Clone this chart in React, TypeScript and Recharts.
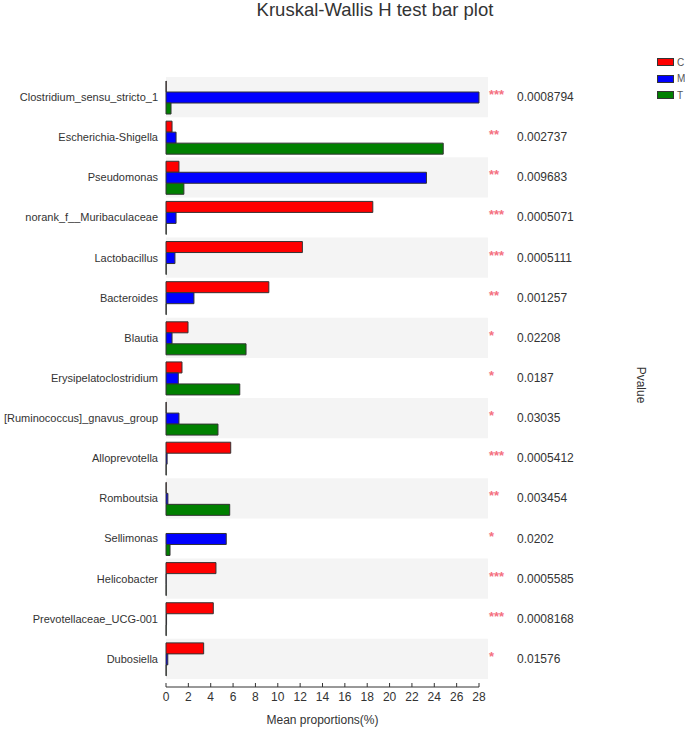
import React from 'react';
import { BarChart, Bar, XAxis, YAxis, ReferenceArea } from 'recharts';

const taxa = [
  'Clostridium_sensu_stricto_1',
  'Escherichia-Shigella',
  'Pseudomonas',
  'norank_f__Muribaculaceae',
  'Lactobacillus',
  'Bacteroides',
  'Blautia',
  'Erysipelatoclostridium',
  '[Ruminococcus]_gnavus_group',
  'Alloprevotella',
  'Romboutsia',
  'Sellimonas',
  'Helicobacter',
  'Prevotellaceae_UCG-001',
  'Dubosiella',
];

// mean proportions (%) per group
const groupC = [0.02, 0.54, 1.16, 18.5, 12.2, 9.2, 1.97, 1.43, 0.02, 5.79, 0.02, 0, 4.47, 4.23, 3.37];
const groupM = [28.0, 0.9, 23.3, 0.9, 0.8, 2.5, 0.54, 1.1, 1.16, 0.1, 0.17, 5.39, 0.02, 0.05, 0.16];
const groupT = [0.45, 24.8, 1.6, 0.02, 0.02, 0.02, 7.16, 6.6, 4.65, 0.02, 5.7, 0.36, 0.02, 0.02, 0.02];

const pValues = [
  '0.0008794', '0.002737', '0.009683', '0.0005071', '0.0005111',
  '0.001257', '0.02208', '0.0187', '0.03035', '0.0005412',
  '0.003454', '0.0202', '0.0005585', '0.0008168', '0.01576',
];
const stars = ['***', '**', '**', '***', '***', '**', '*', '*', '*', '***', '**', '*', '***', '***', '*'];

const groups = ['C', 'M', 'T'];
const colors = ['#ff0000', '#0000ff', '#008000'];
const xTicks = [0, 2, 4, 6, 8, 10, 12, 14, 16, 18, 20, 22, 24, 26, 28];

const data = taxa.map((name, i) => ({ name, C: groupC[i], M: groupM[i], T: groupT[i] }));

const XTick = ({ x, y, payload }: any) => (
  <g>
    <line x1={x} x2={x} y1={y - 4} y2={y} stroke="#333" />
    <text x={x} y={y + 14} textAnchor="middle" fontSize={12} fill="#333">
      {payload.value}
    </text>
  </g>
);

const PTick = ({ x, y, index }: any) => (
  <g>
    <text x={x + 2} y={y + 2} fontSize={13} fontWeight="bold" fill="#f4717f">
      {stars[index]}
    </text>
    <text x={x + 30} y={y + 4} fontSize={12} fill="#333">
      {pValues[index]}
    </text>
  </g>
);

const App = () => {
  return (
    <div
      style={{
        position: 'absolute',
        left: 0,
        top: 0,
        width: 685,
        height: 730,
        overflow: 'hidden',
        fontFamily: '"Liberation Sans", Arial, sans-serif',
        background: '#fff',
      }}
    >
      <div
        style={{
          position: 'absolute',
          left: 175,
          top: -1,
          width: 400,
          textAlign: 'center',
          fontSize: 18.5,
          color: '#333',
        }}
      >
        Kruskal-Wallis H test bar plot
      </div>

      <BarChart
        width={685}
        height={730}
        data={data}
        layout="vertical"
        margin={{ top: 77, right: 0, bottom: 0, left: 0 }}
        barCategoryGap="10%"
        barGap={0}
      >
        {taxa
          .filter((_, i) => i % 2 === 0)
          .map((name) => (
            <ReferenceArea
              key={name}
              yAxisId="left"
              y1={name}
              y2={name}
              x1={0}
              x2={28.8}
              fill="#f4f4f4"
              fillOpacity={1}
              stroke="none"
              ifOverflow="visible"
            />
          ))}
        <XAxis
          type="number"
          domain={[0, 28]}
          ticks={xTicks}
          interval={0}
          height={43}
          tickLine={false}
          tickSize={0}
          tickMargin={0}
          axisLine={{ stroke: '#333' }}
          tick={<XTick />}
          label={{ value: 'Mean proportions(%)', position: 'insideBottom', offset: 6, fontSize: 12, fill: '#333' }}
        />
        <YAxis
          yAxisId="left"
          type="category"
          dataKey="name"
          width={166}
          padding={{ top: 0, bottom: 8 }}
          tickLine={false}
          axisLine={false}
          interval={0}
          tick={{ fontSize: 11, fill: '#333' }}
        />
        <YAxis
          yAxisId="right"
          orientation="right"
          type="category"
          dataKey="name"
          width={206}
          padding={{ top: 0, bottom: 8 }}
          tickLine={false}
          axisLine={false}
          interval={0}
          tick={<PTick />}
        />
        {groups.map((g, i) => (
          <Bar
            key={g}
            yAxisId="left"
            dataKey={g}
            fill={colors[i]}
            stroke="#333"
            strokeWidth={1}
            isAnimationActive={false}
          />
        ))}
      </BarChart>

      <div
        style={{
          position: 'absolute',
          left: 641,
          top: 385,
          transform: 'translate(-50%, -50%) rotate(90deg)',
          fontSize: 12,
          color: '#333',
        }}
      >
        Pvalue
      </div>

      <div style={{ position: 'absolute', left: 657, top: 54 }}>
        {groups.map((g, i) => (
          <div key={g} style={{ display: 'flex', alignItems: 'center', height: 16.5 }}>
            <span
              style={{
                display: 'inline-block',
                width: 15,
                height: 6,
                background: colors[i],
                border: '1px solid #333',
              }}
            />
            <span style={{ fontSize: 10, color: '#555', marginLeft: 3 }}>{g}</span>
          </div>
        ))}
      </div>
    </div>
  );
};

export default App;
